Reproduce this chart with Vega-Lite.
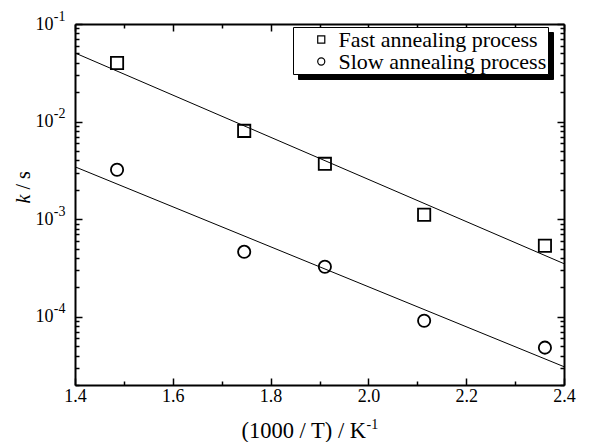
{
  "$schema": "https://vega.github.io/schema/vega-lite/v6.json",
  "width": 489,
  "height": 361,
  "autosize": {"type": "none"},
  "padding": {"left": 75, "top": 24, "right": 26, "bottom": 57},
  "background": "white",
  "datasets": {
    "pts": [
      {"x": 1.486, "k": 0.0399, "series": "Fast annealing process"},
      {"x": 1.746, "k": 0.00803, "series": "Fast annealing process"},
      {"x": 1.911, "k": 0.00369, "series": "Fast annealing process"},
      {"x": 2.114, "k": 0.00111, "series": "Fast annealing process"},
      {"x": 2.361, "k": 0.000535, "series": "Fast annealing process"},
      {"x": 1.486, "k": 0.00321, "series": "Slow annealing process"},
      {"x": 1.746, "k": 0.000463, "series": "Slow annealing process"},
      {"x": 1.911, "k": 0.000326, "series": "Slow annealing process"},
      {"x": 2.114, "k": 0.000091, "series": "Slow annealing process"},
      {"x": 2.361, "k": 0.0000483, "series": "Slow annealing process"}
    ],
    "fits": [
      {"x": 1.4, "k": 0.0505, "series": "Fast annealing process"},
      {"x": 2.4, "k": 0.00035, "series": "Fast annealing process"},
      {"x": 1.4, "k": 0.00344, "series": "Slow annealing process"},
      {"x": 2.4, "k": 0.0000308, "series": "Slow annealing process"}
    ]
  },
  "config": {
    "view": {"stroke": null},
    "axis": {
      "grid": false,
      "domainColor": "black",
      "domainWidth": 2,
      "tickColor": "black",
      "tickWidth": 1.5,
      "labelFont": "Liberation Serif",
      "labelFontSize": 18,
      "labelColor": "black",
      "titleFont": "Liberation Serif",
      "titleFontSize": 22.5,
      "titleFontWeight": "normal",
      "titleColor": "black"
    },
    "legend": {
      "title": null,
      "orient": "none",
      "padding": 1.5,
      "rowPadding": 0,
      "labelFont": "Liberation Serif",
      "labelFontSize": 22,
      "labelColor": "black",
      "symbolSize": 50,
      "symbolStrokeWidth": 1.2,
      "symbolOffset": 15.75,
      "labelOffset": 6.25,
      "labelLimit": 400,
      "labelExpr": "datum.label + '   '"
    }
  },
  "layer": [
    {
      "data": {"name": "pts"},
      "mark": {"type": "point", "opacity": 0, "filled": true},
      "encoding": {
        "x": {
          "field": "x", "type": "quantitative",
          "scale": {"domain": [1.4, 2.4], "nice": false, "zero": false},
          "axis": {
            "orient": "bottom",
            "values": [1.4, 1.6, 1.8, 2.0, 2.2, 2.4],
            "format": ".1f",
            "tickSize": -7,
            "labelPadding": 9,
            "labelFlush": false,
            "title": "(1000 / T) / K",
            "titleAlign": "left",
            "titleBaseline": "alphabetic",
            "titleX": 166,
            "titleY": 52
          }
        },
        "y": {
          "field": "k", "type": "quantitative",
          "scale": {"type": "log", "domain": [0.00002, 0.1], "nice": false},
          "axis": {
            "orient": "left",
            "values": [0.0001, 0.001, 0.01, 0.1],
            "labelExpr": "'10'",
            "tickSize": -7,
            "labelPadding": 29,
            "labelFlush": false,
            "title": "k",
            "titleFontStyle": "italic",
            "titleFontSize": 20,
            "titleAngle": 270,
            "titleAlign": "left",
            "titleBaseline": "alphabetic",
            "titleX": -46,
            "titleY": 179
          }
        },
        "shape": {
          "field": "series", "type": "nominal",
          "scale": {"domain": ["Fast annealing process", "Slow annealing process"], "range": ["square", "circle"]},
          "legend": {
            "legendX": 223,
            "legendY": 8,
            "fillColor": "black",
            "strokeColor": "black",
            "labelColor": "black",
            "labelOpacity": 0,
            "symbolFillColor": "black",
            "symbolStrokeColor": "black"
          }
        }
      }
    },
    {
      "data": {"name": "fits"},
      "mark": {"type": "line", "color": "black", "strokeWidth": 1},
      "encoding": {
        "x": {
          "field": "x", "type": "quantitative",
          "scale": {"domain": [1.4, 2.4], "nice": false, "zero": false},
          "axis": {
            "orient": "bottom",
            "values": [1.5, 1.7, 1.9, 2.1, 2.3],
            "labels": false, "domain": false, "tickSize": -4, "title": null
          }
        },
        "y": {
          "field": "k", "type": "quantitative",
          "scale": {"type": "log", "domain": [0.00002, 0.1], "nice": false},
          "axis": {
            "orient": "left",
            "values": [0.00002, 0.00003, 0.00004, 0.00005, 0.00006, 0.00007, 0.00008, 0.00009, 0.0002, 0.0003, 0.0004, 0.0005, 0.0006, 0.0007, 0.0008, 0.0009, 0.002, 0.003, 0.004, 0.005, 0.006, 0.007, 0.008, 0.009, 0.02, 0.03, 0.04, 0.05, 0.06, 0.07, 0.08, 0.09],
            "labels": false, "domain": false, "tickSize": -4, "title": null
          }
        },
        "detail": {"field": "series", "type": "nominal"}
      }
    },
    {
      "data": {"name": "pts"},
      "mark": {"type": "point", "filled": false, "color": "black", "strokeWidth": 1.8, "size": 150, "opacity": 1},
      "encoding": {
        "x": {
          "field": "x", "type": "quantitative",
          "scale": {"domain": [1.4, 2.4], "nice": false, "zero": false},
          "axis": {
            "orient": "top",
            "values": [1.4, 1.6, 1.8, 2.0, 2.2, 2.4],
            "labels": false, "tickSize": -7, "title": null
          }
        },
        "y": {
          "field": "k", "type": "quantitative",
          "scale": {"type": "log", "domain": [0.00002, 0.1], "nice": false},
          "axis": {
            "orient": "right",
            "values": [0.0001, 0.001, 0.01, 0.1],
            "labels": false, "tickSize": -7, "title": null
          }
        },
        "shape": {
          "field": "series", "type": "nominal",
          "scale": {"domain": ["Fast annealing process", "Slow annealing process"], "range": ["square", "circle"]},
          "legend": {
            "legendX": 218,
            "legendY": 3,
            "fillColor": "white",
            "strokeColor": "black",
            "symbolFillColor": "transparent",
            "symbolStrokeColor": "black"
          }
        }
      }
    },
    {
      "data": {"name": "pts"},
      "mark": {"type": "point", "opacity": 0},
      "encoding": {
        "x": {
          "field": "x", "type": "quantitative",
          "scale": {"domain": [1.4, 2.4], "nice": false, "zero": false},
          "axis": {
            "orient": "top",
            "values": [1.5, 1.7, 1.9, 2.1, 2.3],
            "labels": false, "domain": false, "tickSize": -4, "title": null
          }
        },
        "y": {
          "field": "k", "type": "quantitative",
          "scale": {"type": "log", "domain": [0.00002, 0.1], "nice": false},
          "axis": {
            "orient": "right",
            "values": [0.00002, 0.00003, 0.00004, 0.00005, 0.00006, 0.00007, 0.00008, 0.00009, 0.0002, 0.0003, 0.0004, 0.0005, 0.0006, 0.0007, 0.0008, 0.0009, 0.002, 0.003, 0.004, 0.005, 0.006, 0.007, 0.008, 0.009, 0.02, 0.03, 0.04, 0.05, 0.06, 0.07, 0.08, 0.09],
            "labels": false, "domain": false, "tickSize": -4, "title": null
          }
        }
      }
    },
    {
      "data": {"name": "pts"},
      "mark": {"type": "point", "opacity": 0},
      "encoding": {
        "x": {
          "field": "x", "type": "quantitative",
          "scale": {"domain": [1.4, 2.4], "nice": false, "zero": false},
          "axis": {
            "orient": "bottom",
            "labels": false, "domain": false, "ticks": false,
            "title": "-1",
            "titleFontSize": 14,
            "titleAlign": "left",
            "titleBaseline": "alphabetic",
            "titleX": 291,
            "titleY": 43
          }
        },
        "y": {
          "field": "k", "type": "quantitative",
          "scale": {"type": "log", "domain": [0.00002, 0.1], "nice": false},
          "axis": {
            "orient": "left",
            "values": [0.0001, 0.001, 0.01, 0.1],
            "labelExpr": "datum.value > 0.05 ? '-1' : datum.value > 0.005 ? '-2' : datum.value > 0.0005 ? '-3' : '-4'",
            "labelFontSize": 14,
            "labelPadding": 10,
            "labelOffset": -8,
            "labelFlush": false,
            "domain": false,
            "ticks": false,
            "title": "/ s",
            "titleFontSize": 20,
            "titleAngle": 270,
            "titleAlign": "left",
            "titleBaseline": "alphabetic",
            "titleX": -46,
            "titleY": 165
          }
        }
      }
    }
  ],
  "resolve": {
    "axis": {"x": "independent", "y": "independent"},
    "legend": {"shape": "independent"}
  }
}
